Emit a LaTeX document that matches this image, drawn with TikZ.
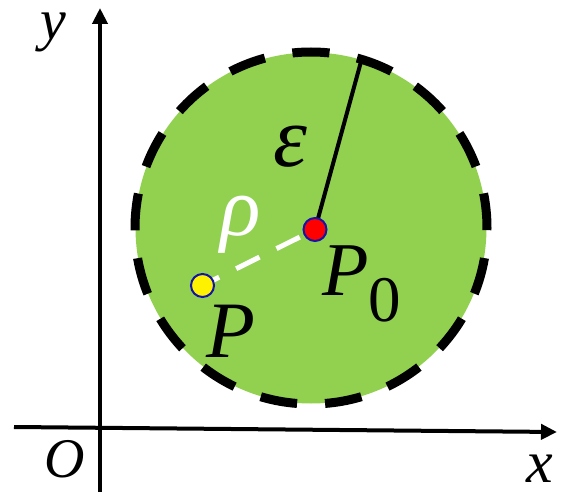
\documentclass[tikz,border=0pt]{standalone}
\usepackage{fontspec}
\setmainfont{Liberation Serif}
\usetikzlibrary{arrows.meta}
\definecolor{discgreen}{RGB}{146,208,80}
\definecolor{dotblue}{RGB}{20,20,170}
\tikzset{
  axis/.style={line width=4pt,-{Triangle[length=16pt,width=15pt]}},
  lab/.style={inner sep=0pt,anchor=base west,font=\fontsize{#1}{#1}\selectfont\itshape},
  dot/.style={circle,draw=dotblue,line width=2pt,minimum size=23pt,inner sep=0pt},
}
\begin{document}
\begin{tikzpicture}[x=1pt,y=1pt,yscale=-1]
\useasboundingbox (0,0) rectangle (563,492);
% disc
\coordinate (c) at (311,228);
\fill[discgreen] (c) circle[radius=175.5];
\draw[line width=9pt,dash pattern=on 37pt off 28.05pt,dash phase=18.5pt]
  (311,52) arc[start angle=270,end angle=630,radius=176];
% axes
\coordinate (xs) at (14,427);
\coordinate (xe) at (557,432);
\coordinate (ys) at (100,492);
\coordinate (ye) at (100,8);
\draw[axis] (xs) -- (xe);
\draw[axis] (ys) -- (ye);
% points
\coordinate (P0c) at (315,229.5);
\coordinate (Pc) at (202.5,285.5);
\coordinate (E) at (362,58);
\draw[line width=4pt] (P0c) -- (E);
\draw[white,line width=5pt,dash pattern=on 26pt off 19pt,dash phase=28pt] (P0c) -- (Pc);
\node[dot,fill=red] (P0) at (P0c) {};
\node[dot,fill=yellow] (P) at (Pc) {};
% labels
\node[lab=86] (eps) at (273,167) {ε};
\node[lab=84,text=white] (rho) at (220,236) {ρ};
\node[lab=76] (lP0) at (322,295) {P\raisebox{-26pt}{\fontsize{65}{65}\selectfont\upshape 0}};
\node[lab=80] (lP) at (206,357) {P};
\node[lab=58] (ly) at (40,40) {y};
\node[lab=56] (lO) at (44,477) {O};
\node[lab=60] (lx) at (526,482) {x};
\end{tikzpicture}
\end{document}
